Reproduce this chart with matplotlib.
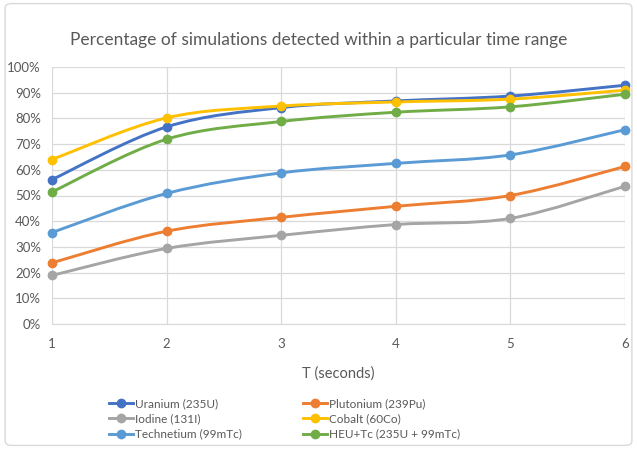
import matplotlib
matplotlib.use('Agg')
import matplotlib.pyplot as plt
from matplotlib.path import Path
from matplotlib.patches import PathPatch, FancyBboxPatch
from matplotlib.lines import Line2D
from matplotlib.ticker import PercentFormatter

plt.rcParams['font.family'] = ['Lato', 'DejaVu Sans']

# 数据（从图中读取，单位 %）
t_seconds = [1, 2, 3, 4, 5, 6]
uranium = [56.2, 76.7, 84.2, 86.8, 88.7, 92.9]
plutonium = [23.8, 36.1, 41.5, 45.8, 50.0, 61.3]
iodine = [18.9, 29.4, 34.5, 38.7, 41.1, 53.6]
cobalt = [64.0, 80.2, 84.8, 86.4, 87.5, 91.0]
technetium = [35.6, 50.8, 58.8, 62.5, 65.8, 75.6]
heu_tc = [51.4, 71.9, 78.8, 82.4, 84.5, 89.4]

series_names = ['Uranium (235U)', 'Plutonium (239Pu)', 'Iodine (131I)',
                'Cobalt (60Co)', 'Technetium (99mTc)', 'HEU+Tc (235U + 99mTc)']
series_values = [uranium, plutonium, iodine, cobalt, technetium, heu_tc]
colors = ['#4472C4', '#ED7D31', '#A5A5A5', '#FFC000', '#5B9BD5', '#70AD47']
text_color = '#595959'


def smooth_path(xs, ys):
    """Excel 风格的平滑曲线：用三次 Bezier 连接相邻点"""
    pts = list(zip(xs, ys))
    n = len(pts)
    verts = [pts[0]]
    codes = [Path.MOVETO]
    for i in range(n - 1):
        p0 = pts[i - 1] if i > 0 else pts[i]
        p1 = pts[i]
        p2 = pts[i + 1]
        p3 = pts[i + 2] if i + 2 < n else pts[i + 1]
        c1 = (p1[0] + (p2[0] - p0[0]) / 6, p1[1] + (p2[1] - p0[1]) / 6)
        c2 = (p2[0] - (p3[0] - p1[0]) / 6, p2[1] - (p3[1] - p1[1]) / 6)
        verts += [c1, c2, p2]
        codes += [Path.CURVE4] * 3
    return Path(verts, codes)


fig = plt.figure(figsize=(6.37, 4.49), dpi=100)
border = FancyBboxPatch((0.008, 0.008), 0.984, 0.984, transform=fig.transFigure,
                        boxstyle='round,pad=0,rounding_size=0.01',
                        facecolor='none', edgecolor='#D9D9D9', linewidth=1.0)
fig.patches.append(border)

ax = fig.add_axes([52 / 637, 1 - 324 / 449, (625 - 52) / 637, (324 - 67) / 449])
ax.patch.set_alpha(0)

for name, vals, c in zip(series_names, series_values, colors):
    patch = PathPatch(smooth_path(t_seconds, vals), facecolor='none', edgecolor=c,
                      linewidth=2.1, capstyle='round', joinstyle='round', zorder=3)
    ax.add_patch(patch)
    ax.plot(t_seconds, vals, linestyle='none', marker='o', markersize=6,
            color=c, zorder=4, clip_on=False)

ax.set_xlim(1, 6)
ax.set_ylim(0, 100)
ax.set_xticks(t_seconds)
ax.set_yticks(range(0, 101, 10))
ax.yaxis.set_major_formatter(PercentFormatter(decimals=0))
ax.grid(True, color='#D9D9D9', linewidth=0.9)
ax.set_axisbelow(True)
for s in ['top', 'right', 'left']:
    ax.spines[s].set_visible(False)
ax.spines['bottom'].set_color('#D9D9D9')
ax.tick_params(length=0, colors=text_color, labelsize=9.5, pad=8)
ax.tick_params(axis='x', pad=10)

ax.set_xlabel('T (seconds)', color=text_color, fontsize=10.5, labelpad=12)
fig.text(0.5, 1 - 40 / 449, 'Percentage of simulations detected within a particular time range',
         ha='center', va='center', color=text_color, fontsize=12.5)

# 图例：按行排列，matplotlib 按列填充，所以重新排序
handles = [Line2D([], [], color=c, linewidth=2.1, marker='o', markersize=6)
           for c in colors]
order = [0, 2, 4, 1, 3, 5]
fig.legend([handles[i] for i in order], [series_names[i] for i in order],
           ncol=2, loc='center', bbox_to_anchor=(0.447, 1 - 419 / 449),
           frameon=False, fontsize=8.5, labelcolor=text_color,
           handlelength=2.0, handletextpad=0.2, columnspacing=5.2,
           labelspacing=0.35)

fig.savefig('out.png', dpi=100)
